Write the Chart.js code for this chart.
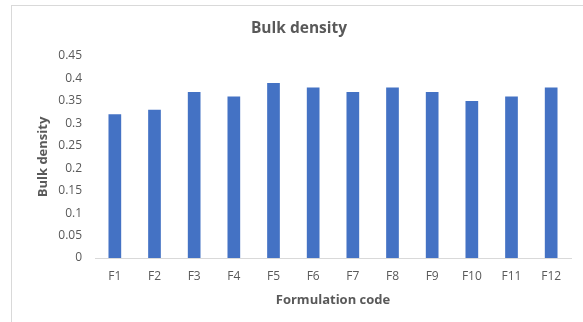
<!DOCTYPE html>
<html>
<head>
<meta charset="utf-8">
<script src="https://cdn.jsdelivr.net/npm/chart.js@4"></script>
<style>
  html, body { margin: 0; padding: 0; background: #ffffff; overflow: hidden; }
  #wrap { position: relative; width: 583px; height: 322px; }
  #frame { position: absolute; left: 11px; top: 5px; width: 700px; height: 400px; border: 1px solid #d9d9d9; box-sizing: border-box; }
  canvas { position: absolute; left: 0; top: 0; }
</style>
</head>
<body>
<div id="wrap">
  <div id="frame"></div>
  <canvas id="chart" width="583" height="322"></canvas>
</div>
<script>
const categories = ['F1', 'F2', 'F3', 'F4', 'F5', 'F6', 'F7', 'F8', 'F9', 'F10', 'F11', 'F12'];
const bulkDensity = [0.32, 0.33, 0.37, 0.36, 0.39, 0.38, 0.37, 0.38, 0.37, 0.35, 0.36, 0.38];
const chartTitle = 'Bulk density';
const xTitle = 'Formulation code';
const yTitle = 'Bulk density';

const FONT = '"Open Sans", "Noto Sans", sans-serif';
const GREY = '#595959';

// Chart heading, placed above the plot
const headingPlugin = {
  id: 'heading',
  afterDraw(chart) {
    const ctx = chart.ctx;
    ctx.save();
    ctx.font = 'bold 15.5px ' + FONT;
    ctx.fillStyle = GREY;
    ctx.textAlign = 'center';
    ctx.textBaseline = 'middle';
    ctx.fillText(chartTitle, 299, 29);
    ctx.restore();
  }
};

new Chart(document.getElementById('chart'), {
  type: 'bar',
  data: {
    labels: categories,
    datasets: [{
      label: yTitle,
      data: bulkDensity,
      backgroundColor: '#4472C4',
      borderWidth: 0,
      barPercentage: 0.32,
      categoryPercentage: 1.0
    }]
  },
  options: {
    responsive: false,
    animation: false,
    layout: { padding: { left: 0, right: 12, top: 56, bottom: 0 } },
    plugins: {
      legend: { display: false },
      tooltip: { enabled: false },
      title: { display: false }
    },
    scales: {
      x: {
        grid: { display: false, drawTicks: false },
        border: { display: true, color: '#d9d9d9', width: 1 },
        ticks: { color: GREY, font: { family: FONT, size: 12 }, padding: 11, maxRotation: 0 },
        title: { display: true, text: xTitle, color: GREY, font: { family: FONT, size: 13, weight: 'bold' }, padding: { top: 0, bottom: 14 } },
        afterFit(scale) { scale.height = 64; }
      },
      y: {
        min: 0,
        max: 0.45,
        grid: { display: false, drawTicks: false },
        border: { display: false },
        ticks: {
          stepSize: 0.05,
          color: GREY,
          font: { family: FONT, size: 12 },
          padding: 13,
          callback: v => String(Math.round(v * 100) / 100)
        },
        title: { display: true, text: yTitle, color: GREY, font: { family: FONT, size: 13, weight: 'bold' }, padding: { top: 35, bottom: 0 } },
        afterFit(scale) { scale.width = 95; }
      }
    }
  },
  plugins: [headingPlugin]
});
</script>
</body>
</html>
